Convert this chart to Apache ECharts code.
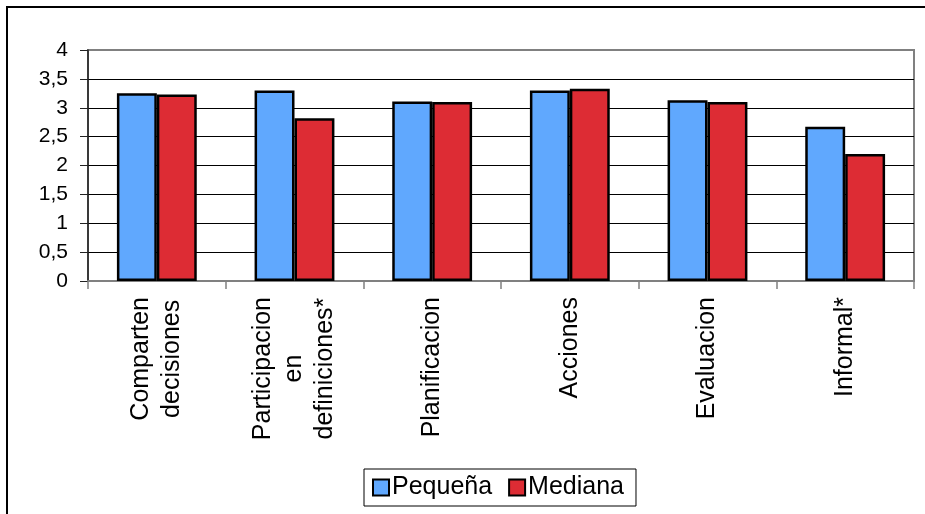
<!DOCTYPE html>
<html>
<head>
<meta charset="utf-8">
<script src="https://cdn.jsdelivr.net/npm/echarts@6/dist/echarts.min.js"></script>
<style>
  html, body { margin: 0; padding: 0; background: #fff; }
  #chart { width: 925px; height: 514px; }
</style>
</head>
<body>
<div id="chart"></div>
<script>
// Categories (line breaks as printed under the axis)
const categories = [
  'Comparten\ndecisiones',
  'Participacion\nen\ndefiniciones*',
  'Planificacion',
  'Acciones',
  'Evaluacion',
  'Informal*'
];
const seriesNames = ['Pequeña', 'Mediana'];
const pequena = [3.25, 3.30, 3.11, 3.30, 3.13, 2.67];
const mediana = [3.23, 2.82, 3.10, 3.33, 3.10, 2.20];
const yTickLabels = ['0', '0,5', '1', '1,5', '2', '2,5', '3', '3,5', '4'];

const FONT = '"Liberation Sans", Arial, sans-serif';
const chart = echarts.init(document.getElementById('chart'), null, { renderer: 'canvas' });

// every horizontal grid line is black except the top one, which is the plot frame
const splitColors = yTickLabels.map((t, i) => i === yTickLabels.length - 1 ? '#808080' : '#000');

chart.setOption({
  animation: false,
  backgroundColor: '#fff',
  graphic: [{
    type: 'rect',
    shape: { x: 7, y: 7, width: 1000, height: 600 },
    style: { fill: 'none', stroke: '#000', lineWidth: 2 },
    silent: true
  }],
  grid: {
    left: 88, top: 50, right: 11, bottom: 233,
    show: true, borderColor: '#808080', borderWidth: 2, backgroundColor: '#fff'
  },
  legend: {
    left: 364, top: 469,
    orient: 'horizontal',
    data: seriesNames,
    icon: 'rect',
    itemWidth: 16, itemHeight: 16,
    itemGap: 16,
    padding: [6, 12, 6, 8],
    borderColor: '#000', borderWidth: 1,
    textStyle: { fontFamily: FONT, fontSize: 25, color: '#000', padding: [0, 0, 0, -2] }
  },
  xAxis: {
    type: 'category',
    data: categories,
    axisLine: { lineStyle: { color: '#808080', width: 2 } },
    axisTick: { show: true, length: 8, lineStyle: { color: '#808080', width: 1.5 } },
    axisLabel: {
      interval: 0,
      rotate: 90,
      margin: 16,
      color: '#000',
      fontFamily: FONT,
      fontSize: 25,
      lineHeight: 31,
      formatter: v => v.split('\n').map(s => '{c|' + s + '}').join('\n'),
      rich: {
        c: { align: 'center', fontFamily: FONT, fontSize: 25, lineHeight: 31, color: '#000' }
      }
    }
  },
  yAxis: {
    type: 'value',
    min: 0, max: 4, interval: 0.5,
    axisLine: { show: true, lineStyle: { color: '#222', width: 1.5 } },
    axisTick: { show: true, length: 8, lineStyle: { color: '#222' } },
    axisLabel: {
      margin: 20,
      color: '#000',
      fontFamily: FONT,
      fontSize: 21,
      formatter: (v) => yTickLabels[Math.round(v * 2)]
    },
    splitLine: { show: true, lineStyle: { color: splitColors, width: 1 } }
  },
  series: [
    {
      name: seriesNames[0],
      type: 'bar',
      data: pequena,
      barGap: '0%',
      barCategoryGap: '42%',
      itemStyle: { color: '#60A8FE', borderColor: '#000', borderWidth: 2.5 }
    },
    {
      name: seriesNames[1],
      type: 'bar',
      data: mediana,
      itemStyle: { color: '#DD2C34', borderColor: '#000', borderWidth: 2.5 }
    }
  ]
});
</script>
</body>
</html>
